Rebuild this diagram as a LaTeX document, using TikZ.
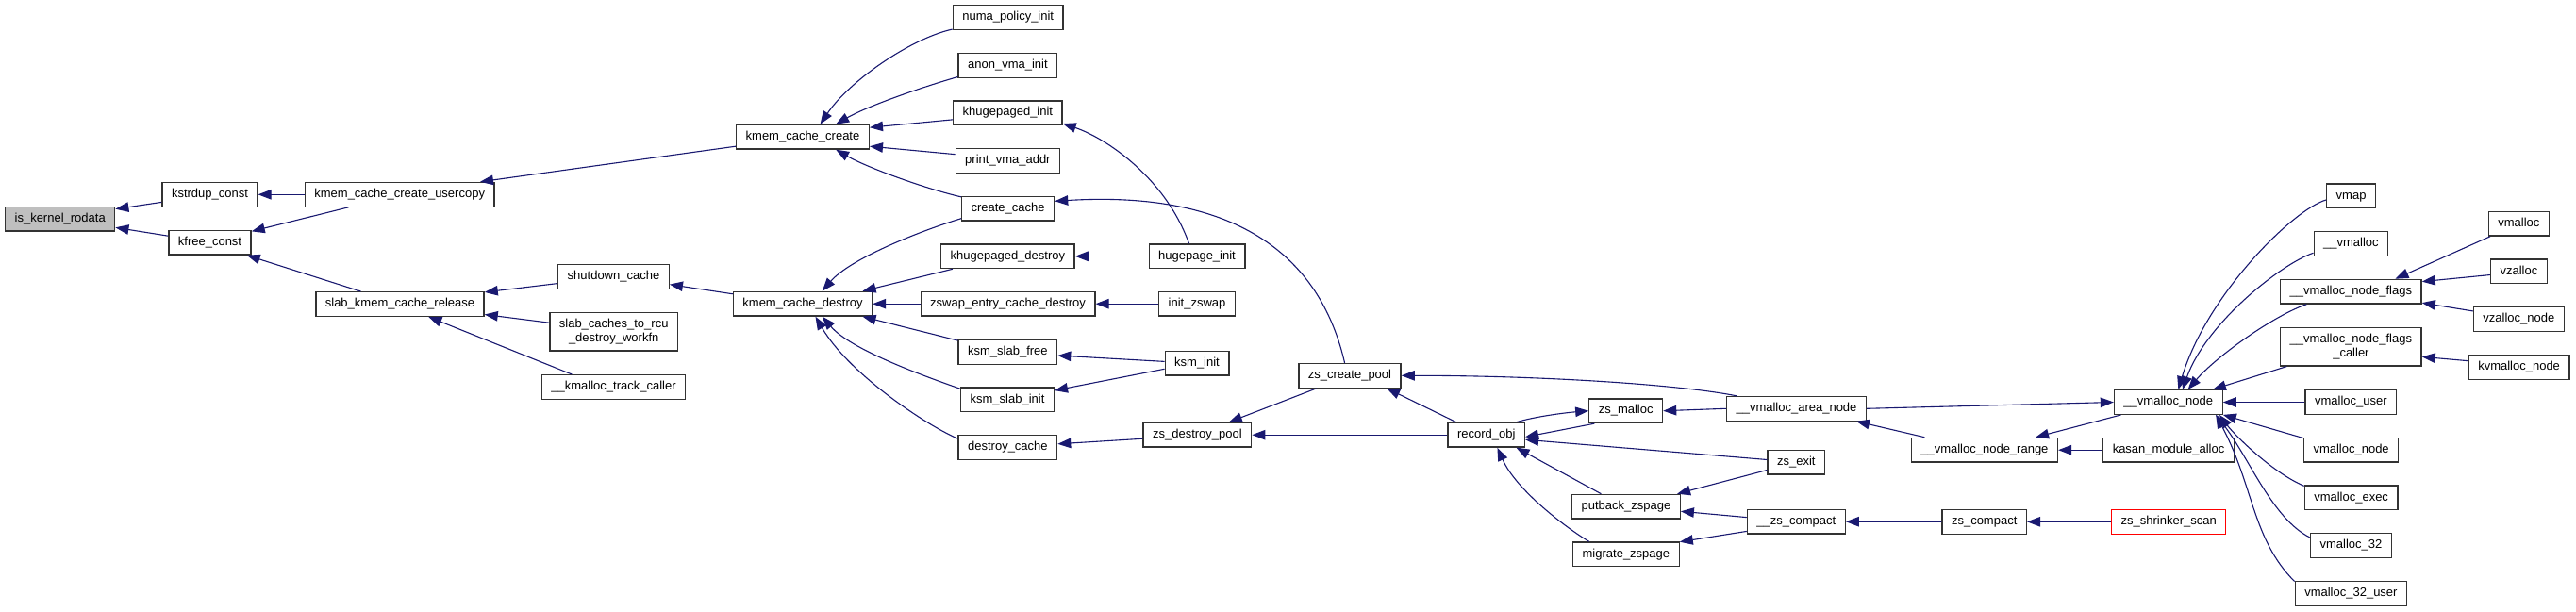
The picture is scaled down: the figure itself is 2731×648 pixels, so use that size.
\documentclass[tikz,border=0pt]{standalone}
\usepackage{fontspec}
\setmainfont{Liberation Sans}
\usetikzlibrary{arrows.meta}
\definecolor{callblue}{HTML}{191970}
\definecolor{rootgray}{HTML}{BFBFBF}
\begin{document}
\begin{tikzpicture}[x=1pt, y=1pt, every node/.style={font=\fontsize{13}{15}\selectfont},
  fn/.style={draw=black!80, line width=1.3pt, fill=white, inner xsep=10pt, inner ysep=0pt, minimum height=25.7pt, text height=9.6pt, text depth=3.2pt},
  fntwo/.style={draw=black!80, line width=1.3pt, fill=white, inner xsep=10pt, inner ysep=3pt, minimum height=40.4pt, align=center},
  call/.style={draw=callblue, line width=1.1pt, -{Triangle[length=14pt,width=10.5pt]}}]
  \useasboundingbox (0,0) rectangle (2731,-648);
  % columns left to right, callee on the left, callers on the right
  \node[fn, fill=rootgray] (rodata) at (63.7,-232) {is\_kernel\_rodata};
  \node[fn] (kstrdup) at (222.5,-206.3) {kstrdup\_const};
  \node[fn] (kfree) at (222.5,-257.2) {kfree\_const};
  \node[fn] (usercopy) at (423.7,-206.3) {kmem\_cache\_create\_usercopy};
  \node[fn] (slabrel) at (424,-322.5) {slab\_kmem\_cache\_release};
  \node[fn] (shutdown) at (650.5,-293.3) {shutdown\_cache};
  \node[fntwo] (rcuwork) at (650.7,-351.8) {slab\_caches\_to\_rcu\\\_destroy\_workfn};
  \node[fn] (kmalloctc) at (650.5,-410.5) {\_\_kmalloc\_track\_caller};
  \node[fn] (kcreate) at (851,-145.2) {kmem\_cache\_create};
  \node[fn] (kdestroy) at (851,-322.2) {kmem\_cache\_destroy};
  \node[fn] (numa) at (1068.7,-18.5) {numa\_policy\_init};
  \node[fn] (anon) at (1068.4,-69.3) {anon\_vma\_init};
  \node[fn] (khinit) at (1068.4,-119.7) {khugepaged\_init};
  \node[fn] (printvma) at (1068.4,-170.5) {print\_vma\_addr};
  \node[fn] (createc) at (1068.6,-221.2) {create\_cache};
  \node[fn] (khdestroy) at (1068.4,-271.8) {khugepaged\_destroy};
  \node[fn] (zswapdes) at (1068.6,-322.2) {zswap\_entry\_cache\_destroy};
  \node[fn] (slabfree) at (1068.4,-373.3) {ksm\_slab\_free};
  \node[fn] (slabinit) at (1068,-423.8) {ksm\_slab\_init};
  \node[fn] (destroyc) at (1068.4,-474.5) {destroy\_cache};
  \node[fn] (hugeinit) at (1269,-271.8) {hugepage\_init};
  \node[fn] (initzswap) at (1269,-322.2) {init\_zswap};
  \node[fn] (ksminit) at (1269,-385.2) {ksm\_init};
  \node[fn] (zsdestroy) at (1269.4,-461.2) {zs\_destroy\_pool};
  \node[fn] (zscreate) at (1431,-398.3) {zs\_create\_pool};
  \node[fn] (recordobj) at (1575.7,-461.2) {record\_obj};
  \node[fn] (zsmalloc) at (1723.7,-435.7) {zs\_malloc};
  \node[fn] (putback) at (1723.9,-537.2) {putback\_zspage};
  \node[fn] (migrate) at (1723.9,-587.8) {migrate\_zspage};
  \node[fn] (areanode) at (1904.5,-433.3) {\_\_vmalloc\_area\_node};
  \node[fn] (zsexit) at (1904.3,-490.2) {zs\_exit};
  \node[fn] (zscompact2) at (1904.3,-553.2) {\_\_zs\_compact};
  \node[fn] (noderange) at (2103.9,-477.2) {\_\_vmalloc\_node\_range};
  \node[fn] (zscompact) at (2103.7,-553.3) {zs\_compact};
  \node[fn] (vnode) at (2298.8,-426.5) {\_\_vmalloc\_node};
  \node[fn] (kasan) at (2299,-477.2) {kasan\_module\_alloc};
  \node[fn, draw=red] (shrinker) at (2299.2,-553.3) {zs\_shrinker\_scan};
  \node[fn] (vmap) at (2492.6,-207.8) {vmap};
  \node[fn] (uvmalloc) at (2492.4,-258.3) {\_\_vmalloc};
  \node[fn] (nodeflags) at (2492.4,-309.2) {\_\_vmalloc\_node\_flags};
  \node[fntwo] (flagscaller) at (2492.4,-367.8) {\_\_vmalloc\_node\_flags\\\_caller};
  \node[fn] (vuser) at (2492.4,-426.5) {vmalloc\_user};
  \node[fn] (vmnode) at (2492.6,-477.2) {vmalloc\_node};
  \node[fn] (vexec) at (2492.6,-527.8) {vmalloc\_exec};
  \node[fn] (v32) at (2492.5,-578.5) {vmalloc\_32};
  \node[fn] (v32user) at (2492.4,-629.3) {vmalloc\_32\_user};
  \node[fn] (vmalloc) at (2670.4,-237.2) {vmalloc};
  \node[fn] (vzalloc) at (2670.4,-287.8) {vzalloc};
  \node[fn] (vzallocnode) at (2670.4,-338.5) {vzalloc\_node};
  \node[fn] (kvmalloc) at (2670.6,-389.3) {kvmalloc\_node};
  % straight calls, arrow at the callee
  \foreach \a/\b in {kstrdup.189/rodata.10, kfree.171/rodata.-9, usercopy.west/kstrdup.east, usercopy.194/kfree.15,
    slabrel.162/kfree.-19, kcreate.188/usercopy.9, shutdown.187/slabrel.8, rcuwork.172/slabrel.-7,
    kmalloctc.163/slabrel.-24, kdestroy.172/shutdown.-8, khinit.187/kcreate.8, printvma.173/kcreate.-8,
    khdestroy.193/kdestroy.12, zswapdes.west/kdestroy.east, slabfree.167/kdestroy.-12, hugeinit.west/khdestroy.east,
    initzswap.west/zswapdes.east, ksminit.177/slabfree.-4, ksminit.190/slabinit.11, zsdestroy.184/destroyc.4,
    zscreate.201/zsdestroy.22, recordobj.west/zsdestroy.east, recordobj.157/zscreate.-19, zsmalloc.202/recordobj.-3,
    zsexit.175/recordobj.-7, putback.153/recordobj.-23, zsexit.195/putback.14, zscompact2.175/putback.-5,
    zscompact2.191/migrate.13, zscompact.west/zscompact2.east, shrinker.west/zscompact.east, areanode.west/zsmalloc.east,
    noderange.168/areanode.-12, areanode.east/vnode.west, vnode.195/noderange.14, kasan.west/noderange.east,
    flagscaller.197/vnode.16, vuser.west/vnode.east, vmnode.166/vnode.-13, vmalloc.204/nodeflags.16,
    vzalloc.187/nodeflags.8, vzallocnode.170/nodeflags.-9, kvmalloc.173/flagscaller.-8}
    \draw[call] (\a) -- (\b);
  % curved calls
  \draw[call] (numa.192) .. controls +(-45,-10) and +(30,45) .. (kcreate.36);
  \draw[call] (anon.193) .. controls +(-35,-10) and +(35,20) .. (kcreate.21);
  \draw[call] (createc.166) .. controls +(-35,8) and +(35,-20) .. (kcreate.-21);
  \draw[call] (createc.192) .. controls +(-40,-12) and +(30,35) .. (kdestroy.33);
  \draw[call] (slabinit.167) .. controls +(-40,14) and +(30,-35) .. (kdestroy.-33);
  \draw[call] (destroyc.170) .. controls +(-35,15) and +(35,-60) .. (kdestroy.-45);
  \draw[call] (hugeinit.122) .. controls +(-25,70) and +(45,-15) .. (khinit.-11);
  \draw[call] (zscreate.112) .. controls +(-36,156) and +(130,8) .. (createc.9);
  \draw[call] (areanode.168) .. controls +(-60,12) and +(150,0) .. (zscreate.east);
  \draw[call] (recordobj.23) .. controls +(20,6) and +(-25,-2) .. (zsmalloc.west);
  \draw[call] (migrate.161) .. controls +(-25,15) and +(20,-45) .. (recordobj.-49);
  \draw[call] (vmap.189) .. controls +(-35,-10) and +(30,100) .. (vnode.52);
  \draw[call] (uvmalloc.194) .. controls +(-35,-12) and +(25,70) .. (vnode.42);
  \draw[call] (nodeflags.196) .. controls +(-35,-12) and +(30,35) .. (vnode.33);
  \draw[call] (vexec.166) .. controls +(-35,15) and +(15,-20) .. (vnode.-14);
  \draw[call] (v32.169) .. controls +(-40,20) and +(35,-45) .. (vnode.-15);
  \draw[call] (v32user.168) .. controls +(-45,45) and +(40,-75) .. (vnode.-15);
\end{tikzpicture}
\end{document}
